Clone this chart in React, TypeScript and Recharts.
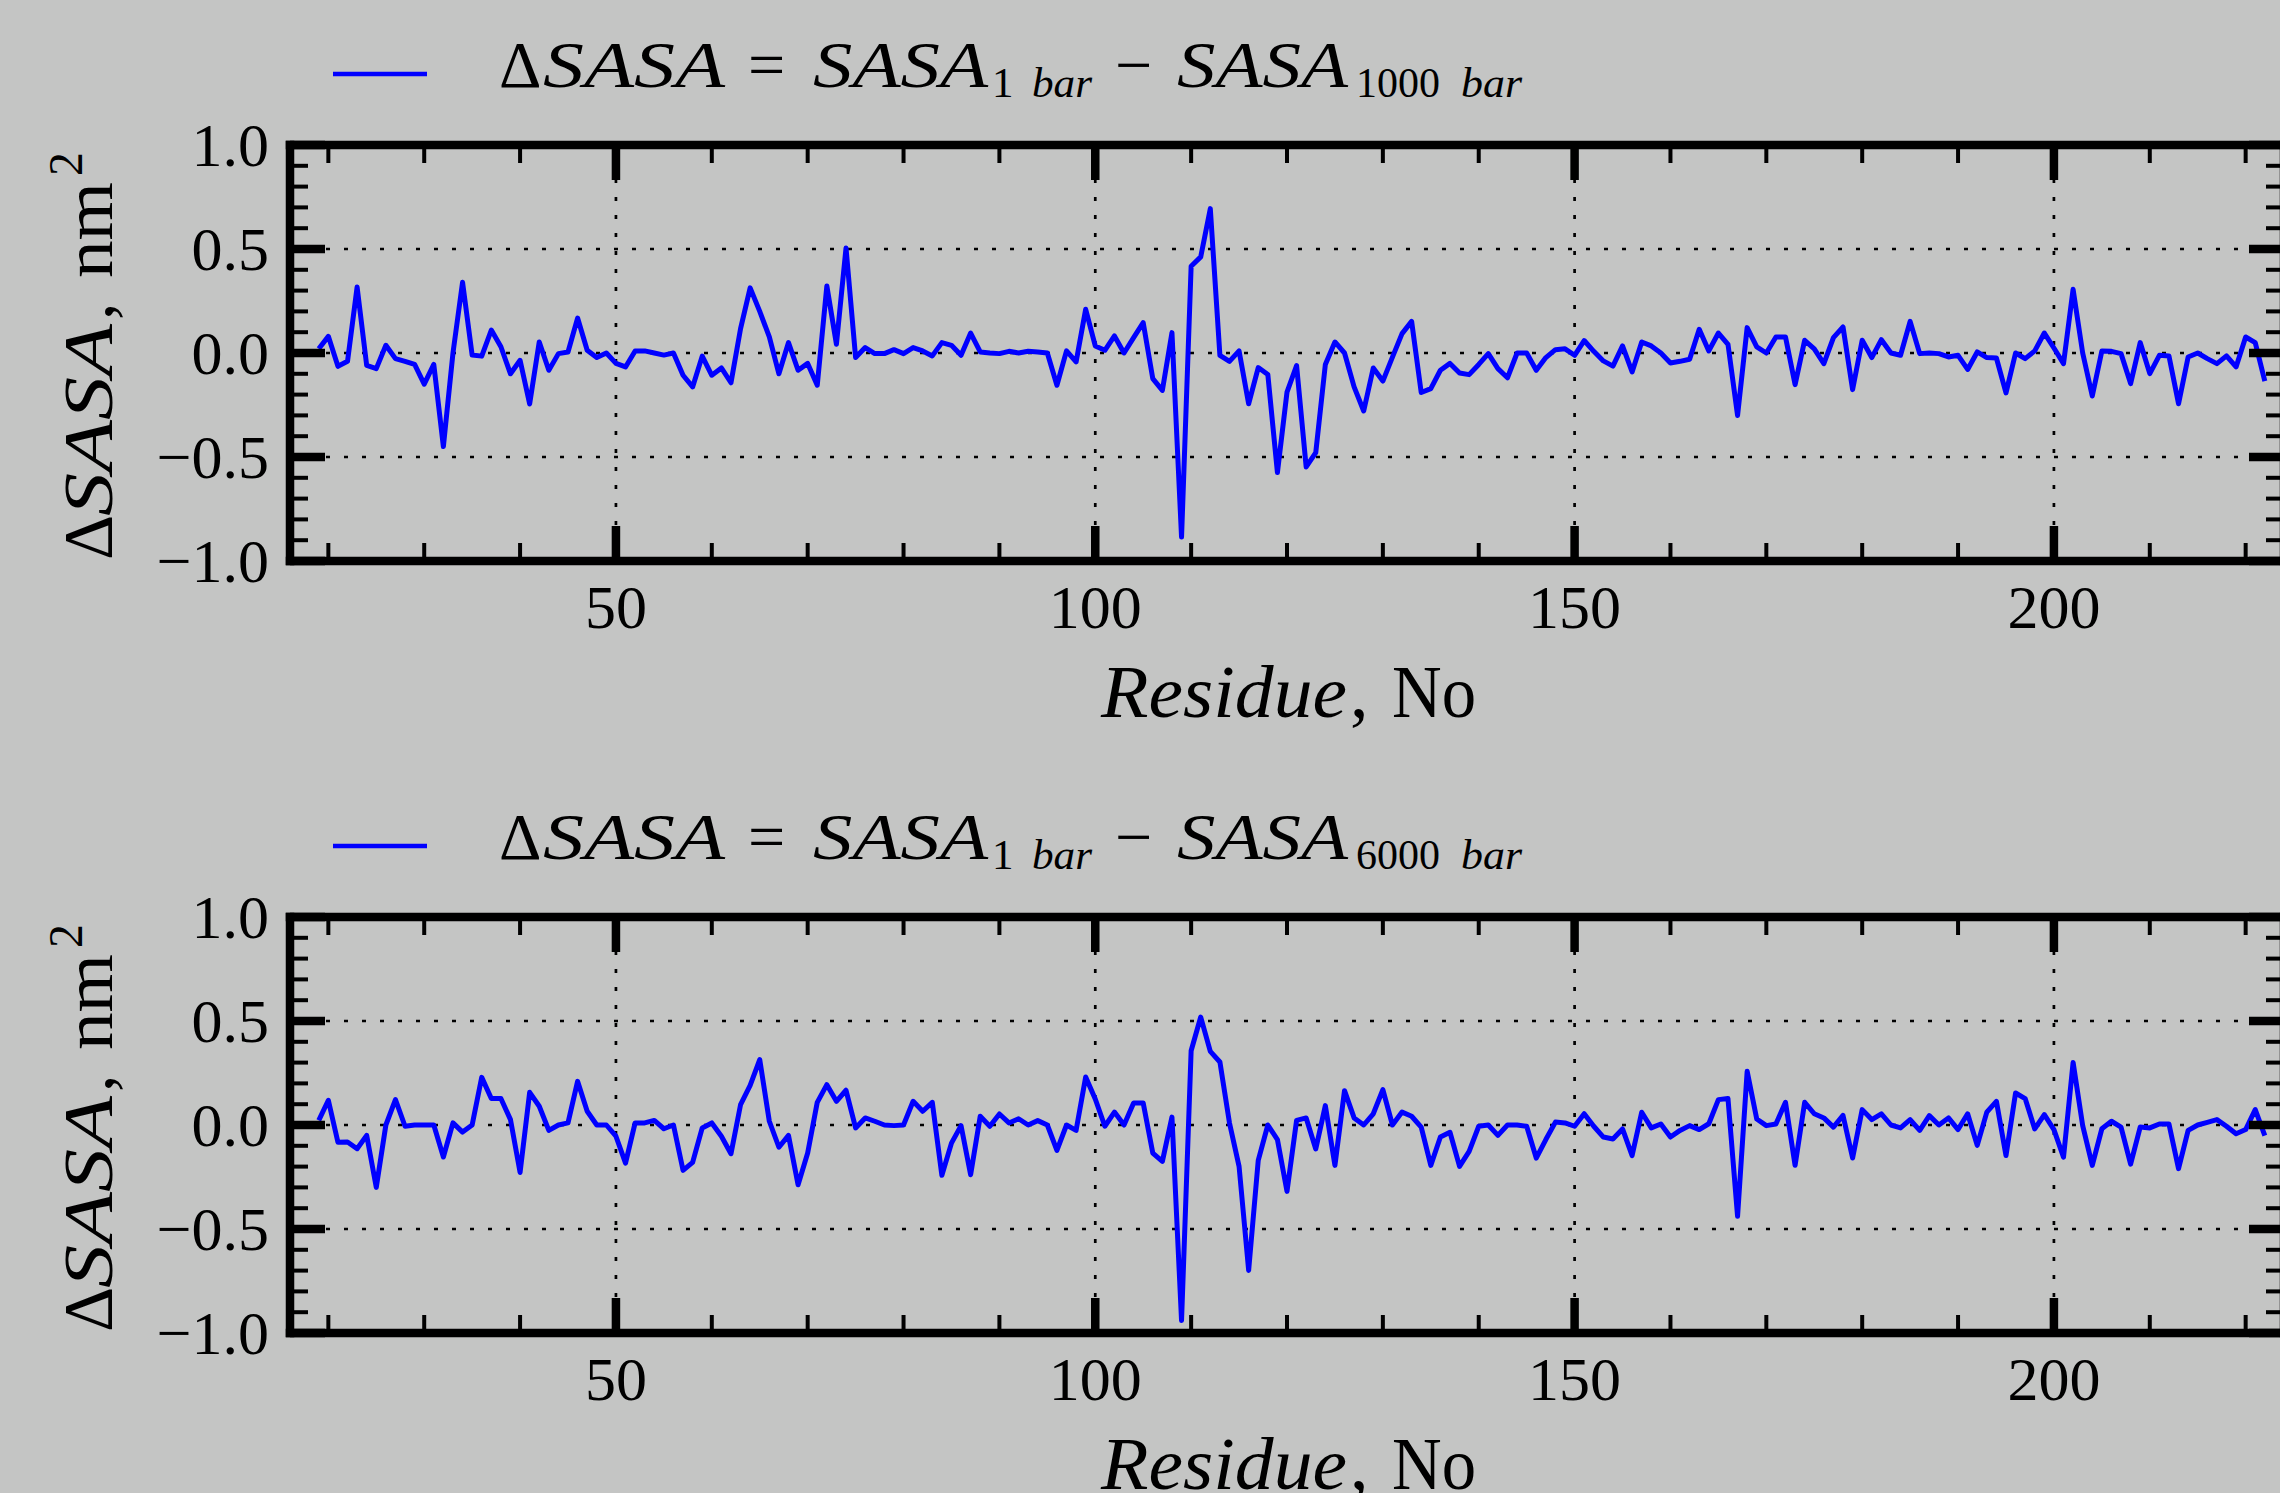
import { LineChart, Line, XAxis, YAxis, ReferenceLine, Legend, Label } from 'recharts'

const BG = '#c4c5c4'
const BLUE = '#0000ff'
const SERIF = '"Liberation Serif", "Times New Roman", serif'

const RESIDUES = [
  19, 20, 21, 22, 23, 24, 25, 26, 27, 28,
  29, 30, 31, 32, 33, 34, 35, 36, 37, 38,
  39, 40, 41, 42, 43, 44, 45, 46, 47, 48,
  49, 50, 51, 52, 53, 54, 55, 56, 57, 58,
  59, 60, 61, 62, 63, 64, 65, 66, 67, 68,
  69, 70, 71, 72, 73, 74, 75, 76, 77, 78,
  79, 80, 81, 82, 83, 84, 85, 86, 87, 88,
  89, 90, 91, 92, 93, 94, 95, 96, 97, 98,
  99, 100, 101, 102, 103, 104, 105, 106, 107, 108,
  109, 110, 111, 112, 113, 114, 115, 116, 117, 118,
  119, 120, 121, 122, 123, 124, 125, 126, 127, 128,
  129, 130, 131, 132, 133, 134, 135, 136, 137, 138,
  139, 140, 141, 142, 143, 144, 145, 146, 147, 148,
  149, 150, 151, 152, 153, 154, 155, 156, 157, 158,
  159, 160, 161, 162, 163, 164, 165, 166, 167, 168,
  169, 170, 171, 172, 173, 174, 175, 176, 177, 178,
  179, 180, 181, 182, 183, 184, 185, 186, 187, 188,
  189, 190, 191, 192, 193, 194, 195, 196, 197, 198,
  199, 200, 201, 202, 203, 204, 205, 206, 207, 208,
  209, 210, 211, 212, 213, 214, 215, 216, 217, 218,
  219, 220, 221, 222,
]

// ΔSASA = SASA(1 bar) - SASA(1000 bar), nm^2
const SASA_1000 = [
  0.02, 0.08, -0.064, -0.04, 0.317, -0.06, -0.075, 0.037, -0.027, -0.04,
  -0.055, -0.15, -0.055, -0.45, 0.0, 0.34, -0.01, -0.015, 0.11, 0.03,
  -0.1, -0.035, -0.245, 0.053, -0.083, -0.003, 0.005, 0.168, 0.013, -0.022,
  0.0, -0.05, -0.067, 0.01, 0.01, 0.0, -0.01, 0.0, -0.107, -0.163,
  -0.015, -0.107, -0.072, -0.143, 0.117, 0.313, 0.2, 0.077, -0.1, 0.05,
  -0.083, -0.05, -0.155, 0.322, 0.042, 0.505, -0.022, 0.026, -0.003, -0.003,
  0.016, -0.003, 0.026, 0.01, -0.014, 0.05, 0.037, -0.011, 0.096, 0.005,
  0.0, -0.003, 0.008, 0.0, 0.008, 0.005, 0.0, -0.155, 0.01, -0.043,
  0.21, 0.034, 0.013, 0.082, 0.0, 0.074, 0.146, -0.123, -0.18, 0.098,
  -0.885, 0.417, 0.462, 0.694, -0.011, -0.04, 0.01, -0.244, -0.07, -0.103,
  -0.575, -0.188, -0.06, -0.548, -0.479, -0.055, 0.053, 0.0, -0.163, -0.279,
  -0.072, -0.135, -0.02, 0.093, 0.152, -0.19, -0.171, -0.083, -0.05, -0.096,
  -0.104, -0.055, -0.003, -0.075, -0.119, 0.0, 0.0, -0.083, -0.022, 0.016,
  0.02, -0.011, 0.06, 0.008, -0.038, -0.063, 0.034, -0.091, 0.053, 0.034,
  0.0, -0.048, -0.04, -0.03, 0.114, 0.01, 0.096, 0.042, -0.3, 0.122,
  0.029, 0.0, 0.077, 0.077, -0.152, 0.061, 0.02, -0.051, 0.074, 0.125,
  -0.176, 0.061, -0.022, 0.064, 0.0, -0.011, 0.152, -0.003, 0.0, -0.003,
  -0.019, -0.011, -0.079, 0.005, -0.022, -0.024, -0.192, 0.0, -0.027, 0.01,
  0.096, 0.024, -0.051, 0.306, 0.0, -0.207, 0.01, 0.008, -0.003, -0.147,
  0.05, -0.099, -0.011, -0.014, -0.244, -0.019, 0.0, -0.027, -0.051, -0.014,
  -0.067, 0.077, 0.05, -0.135,
]

// ΔSASA = SASA(1 bar) - SASA(6000 bar), nm^2
const SASA_6000 = [
  0.022, 0.119, -0.083, -0.082, -0.114, -0.05, -0.3, 0.0, 0.122, -0.006,
  0.0, 0.0, 0.0, -0.154, 0.01, -0.034, 0.0, 0.229, 0.127, 0.127,
  0.026, -0.228, 0.157, 0.09, -0.026, 0.0, 0.01, 0.21, 0.066, 0.0,
  0.0, -0.054, -0.183, 0.01, 0.01, 0.022, -0.018, 0.0, -0.218, -0.18,
  -0.014, 0.01, -0.054, -0.138, 0.098, 0.19, 0.314, 0.018, -0.107, -0.05,
  -0.287, -0.135, 0.109, 0.194, 0.114, 0.167, -0.014, 0.034, 0.018, 0.0,
  -0.003, 0.0, 0.114, 0.066, 0.109, -0.242, -0.087, -0.003, -0.239, 0.042,
  -0.006, 0.053, 0.01, 0.03, 0.0, 0.021, 0.0, -0.122, 0.0, -0.026,
  0.231, 0.125, -0.006, 0.062, 0.0, 0.106, 0.106, -0.135, -0.175, 0.038,
  -0.94, 0.357, 0.519, 0.354, 0.303, 0.01, -0.199, -0.699, -0.17, 0.0,
  -0.07, -0.319, 0.022, 0.034, -0.115, 0.093, -0.194, 0.165, 0.034, 0.0,
  0.054, 0.17, 0.0, 0.062, 0.042, -0.01, -0.194, -0.058, -0.035, -0.199,
  -0.127, -0.006, 0.0, -0.05, 0.0, 0.0, -0.006, -0.159, -0.07, 0.014,
  0.01, -0.006, 0.054, -0.006, -0.058, -0.067, -0.019, -0.147, 0.061, -0.014,
  0.005, -0.058, -0.026, -0.003, -0.022, 0.006, 0.122, 0.127, -0.439, 0.258,
  0.029, -0.003, 0.005, 0.109, -0.194, 0.109, 0.054, 0.034, -0.01, 0.046,
  -0.159, 0.074, 0.026, 0.054, 0.0, -0.014, 0.026, -0.026, 0.045, 0.0,
  0.034, -0.022, 0.054, -0.098, 0.062, 0.114, -0.147, 0.154, 0.127, -0.019,
  0.05, -0.022, -0.155, 0.301, -0.003, -0.194, -0.018, 0.018, -0.01, -0.188,
  -0.01, -0.014, 0.005, 0.005, -0.21, -0.026, 0.0, 0.013, 0.026, -0.006,
  -0.042, -0.022, 0.074, -0.051,
]

const X_DOMAIN = [16, 224]
const X_TICKS = [20, 30, 40, 50, 60, 70, 80, 90, 100, 110, 120, 130, 140, 150, 160, 170, 180, 190, 200, 210, 220]
const X_MAJOR = [50, 100, 150, 200]
const Y_TICKS = [-1, -0.9, -0.8, -0.7, -0.6, -0.5, -0.4, -0.3, -0.2, -0.1, 0, 0.1, 0.2, 0.3, 0.4, 0.5, 0.6, 0.7, 0.8, 0.9, 1]
const Y_MAJOR = [-1, -0.5, 0, 0.5, 1]
const Y_GRID = [-0.5, 0, 0.5]

const data = RESIDUES.map((r, i) => ({ residue: r, p1000: SASA_1000[i], p6000: SASA_6000[i] }))

const MAJOR_LEN = 35
const MINOR_LEN = 18
const MAJOR_W = 8.5
const MINOR_W = 4
const spine = { stroke: '#000', strokeWidth: 8.5, strokeLinecap: 'square' as const }

const isMajorX = (v: number) => X_MAJOR.includes(v)
const isMajorY = (v: number) => Y_MAJOR.some((m) => Math.abs(m - v) < 1e-6)
const fmtY = (v: number) => (Math.abs(v) < 1e-9 ? 0 : v).toFixed(1).replace('-', '\u2212')

function BottomTick({ x, y, payload }: any) {
  const major = isMajorX(payload.value)
  return (
    <g>
      <line x1={x} x2={x} y1={y} y2={y - (major ? MAJOR_LEN : MINOR_LEN)} stroke="#000" strokeWidth={major ? MAJOR_W : MINOR_W} />
      {major && (
        <text x={x} y={y + 67} textAnchor="middle" fontFamily={SERIF} fontSize={62} fill="#000">
          {payload.value}
        </text>
      )}
    </g>
  )
}

function TopTick({ x, y, payload }: any) {
  const major = isMajorX(payload.value)
  return <line x1={x} x2={x} y1={y} y2={y + (major ? MAJOR_LEN : MINOR_LEN)} stroke="#000" strokeWidth={major ? MAJOR_W : MINOR_W} />
}

function LeftTick({ x, y, payload }: any) {
  const major = isMajorY(payload.value)
  return (
    <g>
      <line x1={x} x2={x + (major ? MAJOR_LEN : MINOR_LEN)} y1={y} y2={y} stroke="#000" strokeWidth={major ? MAJOR_W : MINOR_W} />
      {major && (
        <text x={x - 21} y={y + 21} textAnchor="end" fontFamily={SERIF} fontSize={62} fill="#000">
          {fmtY(payload.value)}
        </text>
      )}
    </g>
  )
}

function RightTick({ x, y, payload }: any) {
  const major = isMajorY(payload.value)
  return <line x1={x} x2={x - (major ? MAJOR_LEN : MINOR_LEN)} y1={y} y2={y} stroke="#000" strokeWidth={major ? MAJOR_W : MINOR_W} />
}

function XTitle() {
  return (
    <text y={717} fontFamily={SERIF} fontSize={74} fill="#000">
      <tspan x={1101} fontStyle="italic" textLength={246} lengthAdjust="spacingAndGlyphs">Residue</tspan>
      <tspan x={1350}>,</tspan>
      <tspan x={1392} textLength={84} lengthAdjust="spacingAndGlyphs">No</tspan>
    </text>
  )
}

function YTitle() {
  return (
    <text transform="translate(112, 560) rotate(-90)" fontFamily={SERIF} fontSize={70} fill="#000">
      <tspan x={0} y={0}>Δ</tspan>
      <tspan x={44} fontStyle="italic" textLength={192} lengthAdjust="spacingAndGlyphs">SASA</tspan>
      <tspan x={240}>,</tspan>
      <tspan x={282} textLength={96} lengthAdjust="spacingAndGlyphs">nm</tspan>
      <tspan x={384} dy={-30} fontSize={48}>2</tspan>
    </text>
  )
}

function LegendBox({ pressure }: { pressure: string }) {
  return (
    <svg width={1600} height={130} style={{ display: 'block' }}>
      <line x1={333} x2={427} y1={74} y2={74} stroke={BLUE} strokeWidth={4.7} />
      <text y={87} fontFamily={SERIF} fontSize={66} fill="#000">
        <tspan x={499}>Δ</tspan>
        <tspan x={543} fontStyle="italic" textLength={182} lengthAdjust="spacingAndGlyphs">SASA</tspan>
        <tspan x={748}>=</tspan>
        <tspan x={813} fontStyle="italic" textLength={175} lengthAdjust="spacingAndGlyphs">SASA</tspan>
        <tspan x={992} y={97} fontSize={43}>1</tspan>
        <tspan x={1032} y={97} fontSize={43} fontStyle="italic" textLength={60} lengthAdjust="spacingAndGlyphs">bar</tspan>
        <tspan x={1115} y={87}>−</tspan>
        <tspan x={1177} fontStyle="italic" textLength={171} lengthAdjust="spacingAndGlyphs">SASA</tspan>
        <tspan x={1356} y={97} fontSize={43} textLength={84} lengthAdjust="spacingAndGlyphs">{pressure}</tspan>
        <tspan x={1461} y={97} fontSize={43} fontStyle="italic" textLength={61} lengthAdjust="spacingAndGlyphs">bar</tspan>
      </text>
    </svg>
  )
}

function SasaPanel({ dataKey, pressure, top }: { dataKey: string; pressure: string; top: number }) {
  return (
    <div style={{ position: 'absolute', left: 0, top }}>
      <LineChart width={2304} height={760} data={data} margin={{ top: 0, right: 0, bottom: 0, left: 0 }}>
        <XAxis
          xAxisId="b"
          dataKey="residue"
          type="number"
          orientation="bottom"
          domain={X_DOMAIN}
          allowDataOverflow
          ticks={X_TICKS}
          interval={0}
          height={199}
          tickSize={0}
          tickMargin={0}
          tickLine={false}
          axisLine={spine}
          tick={(p: any) => <BottomTick {...p} />}
        >
          <Label content={() => <XTitle />} />
        </XAxis>
        <XAxis
          xAxisId="t"
          dataKey="residue"
          type="number"
          orientation="top"
          domain={X_DOMAIN}
          allowDataOverflow
          ticks={X_TICKS}
          interval={0}
          height={145}
          tickSize={0}
          tickMargin={0}
          tickLine={false}
          axisLine={spine}
          tick={(p: any) => <TopTick {...p} />}
        />
        <YAxis
          yAxisId="l"
          type="number"
          orientation="left"
          domain={[-1, 1]}
          allowDataOverflow
          ticks={Y_TICKS}
          interval={0}
          width={290}
          tickSize={0}
          tickMargin={0}
          tickLine={false}
          axisLine={spine}
          tick={(p: any) => <LeftTick {...p} />}
        >
          <Label content={() => <YTitle />} />
        </YAxis>
        <YAxis
          yAxisId="r"
          type="number"
          orientation="right"
          domain={[-1, 1]}
          allowDataOverflow
          ticks={Y_TICKS}
          interval={0}
          width={20}
          tickSize={0}
          tickMargin={0}
          tickLine={false}
          axisLine={spine}
          tick={(p: any) => <RightTick {...p} />}
        />
        {X_MAJOR.map((v) => (
          <ReferenceLine key={`x${v}`} xAxisId="b" yAxisId="l" x={v} stroke="#000" strokeWidth={2.7} strokeDasharray="4 14" />
        ))}
        {Y_GRID.map((v) => (
          <ReferenceLine key={`y${v}`} xAxisId="b" yAxisId="l" y={v} stroke="#000" strokeWidth={2.7} strokeDasharray="4 14" />
        ))}
        <Line
          xAxisId="b"
          yAxisId="l"
          dataKey={dataKey}
          type="linear"
          stroke={BLUE}
          strokeWidth={5}
          strokeLinejoin="round"
          dot={false}
          activeDot={false}
          isAnimationActive={false}
        />
        <Legend
          layout="horizontal"
          verticalAlign="middle"
          align="center"
          wrapperStyle={{ position: 'absolute', left: 0, top: 0, width: 1600, height: 130 }}
          content={() => <LegendBox pressure={pressure} />}
        />
      </LineChart>
    </div>
  )
}

export default function App() {
  return (
    <div style={{ position: 'absolute', left: 0, top: 0, width: 2280, height: 1493, overflow: 'hidden', background: BG }}>
      <SasaPanel dataKey="p1000" pressure="1000" top={0} />
      <SasaPanel dataKey="p6000" pressure="6000" top={772} />
    </div>
  )
}
